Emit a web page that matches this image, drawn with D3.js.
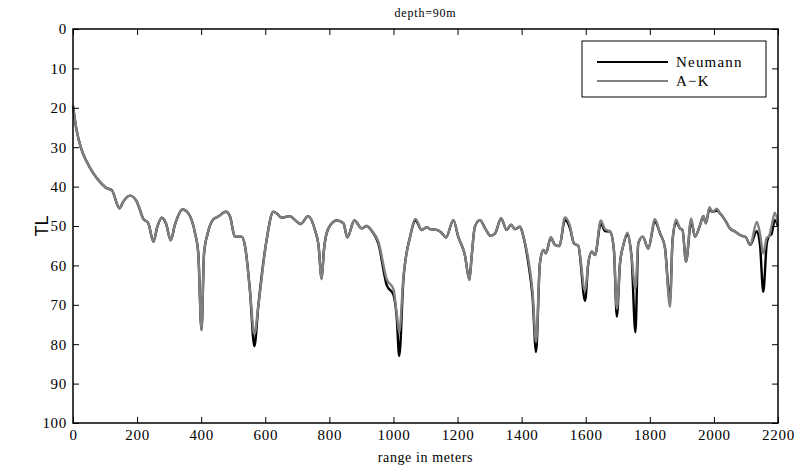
<!DOCTYPE html>
<html>
<head>
<meta charset="utf-8">
<script src="https://cdn.jsdelivr.net/npm/d3@7"></script>
<style>
  body { margin: 0; background: #fff; }
  .js-container { width: 796px; height: 468px; }
  svg text { fill: #000; }
</style>
</head>
<body>
<div class="js-container"></div>
<script>
;(function() {
  'use strict';

  var ranges = [0, 11, 27, 43, 63, 84, 105, 121, 145, 157, 178, 199, 219, 235, 251, 263, 277, 290, 305, 318,
    342, 360, 381, 391, 401, 409, 420, 438, 453, 477, 490, 505, 526, 537, 552, 566, 578, 604, 625, 636,
    651, 677, 693, 710, 734, 755, 766, 776, 783, 797, 823, 844, 856, 878, 901, 916, 932, 953, 979, 1000,
    1010, 1018, 1031, 1052, 1069, 1088, 1104, 1114, 1135, 1150, 1164, 1187, 1202, 1223, 1237, 1244, 1254, 1270, 1286, 1303,
    1317, 1336, 1353, 1367, 1379, 1395, 1405, 1421, 1434, 1445, 1457, 1468, 1476, 1491, 1504, 1518, 1535, 1551, 1563, 1577,
    1598, 1608, 1619, 1629, 1647, 1660, 1676, 1688, 1697, 1707, 1717, 1730, 1743, 1755, 1764, 1778, 1795, 1816, 1832, 1847,
    1863, 1871, 1882, 1894, 1902, 1913, 1929, 1941, 1957, 1967, 1975, 1986, 1996, 2009, 2019, 2035, 2050, 2066, 2081, 2100,
    2113, 2134, 2144, 2154, 2165, 2172, 2180, 2190, 2200];

  var neumann = [19.5, 25.6, 30.7, 33.7, 36.6, 38.8, 40.4, 40.9, 45.5, 43.8, 42.3, 43.8, 48.1, 49.3, 54.0, 50.2, 47.9, 49.3, 53.6, 49.7,
    45.8, 46.8, 51.9, 57.0, 76.4, 56.9, 52.0, 48.3, 47.6, 46.4, 47.6, 52.7, 52.7, 55.2, 66.2, 80.5, 70.5, 53.6, 46.4, 46.8,
    47.9, 47.5, 48.5, 49.5, 47.5, 51.0, 54.8, 63.3, 56.1, 50.6, 48.6, 49.3, 52.9, 48.6, 50.6, 50.0, 51.2, 54.5, 65.0, 67.5,
    73.0, 83.0, 63.7, 52.7, 48.6, 51.0, 50.3, 50.8, 51.0, 51.7, 52.9, 48.5, 52.7, 57.4, 63.7, 57.8, 50.2, 48.5, 50.6, 52.5,
    51.9, 48.1, 51.0, 49.7, 50.8, 50.2, 52.5, 59.5, 67.9, 82.0, 59.5, 56.1, 56.9, 52.9, 54.8, 55.1, 48.5, 50.6, 54.4, 55.1,
    69.0, 59.5, 56.5, 57.4, 49.3, 51.3, 51.4, 56.1, 73.0, 59.5, 55.0, 52.3, 57.8, 77.0, 54.4, 52.7, 55.7, 48.9, 51.9, 55.4,
    69.0, 53.6, 49.0, 50.6, 51.0, 59.0, 48.8, 52.7, 49.7, 47.5, 49.3, 45.7, 46.4, 46.1, 46.8, 48.5, 50.6, 51.4, 52.3, 52.9,
    54.8, 51.3, 55.0, 66.7, 54.4, 52.6, 52.0, 48.5, 50.0];

  var ak = [19.5, 25.6, 30.7, 33.7, 36.6, 38.8, 40.4, 40.9, 45.5, 43.8, 42.3, 43.8, 48.1, 49.3, 54.0, 50.2, 47.9, 49.3, 53.6, 49.7,
    45.8, 46.8, 51.9, 57.0, 76.4, 56.9, 52.0, 48.3, 47.6, 46.4, 47.6, 52.7, 52.7, 55.2, 66.2, 77.5, 70.5, 53.6, 46.4, 46.8,
    47.9, 47.5, 48.5, 49.5, 47.5, 51.0, 54.8, 63.5, 56.1, 50.6, 48.6, 49.3, 52.9, 48.6, 50.6, 50.0, 51.2, 54.0, 63.5, 66.0,
    72.0, 77.0, 63.0, 52.7, 48.2, 51.0, 50.3, 50.8, 51.0, 51.7, 52.9, 48.5, 52.7, 57.4, 63.7, 57.8, 50.2, 48.5, 50.6, 52.5,
    51.9, 48.1, 51.0, 49.7, 50.8, 50.2, 52.5, 58.5, 66.5, 79.5, 59.5, 56.1, 56.9, 52.9, 54.8, 55.1, 47.8, 50.0, 54.4, 55.1,
    66.5, 59.5, 56.5, 57.4, 48.6, 50.8, 51.4, 56.1, 71.0, 59.5, 55.0, 51.7, 57.8, 66.0, 54.4, 52.7, 55.7, 48.3, 51.9, 55.4,
    70.5, 53.6, 48.4, 50.6, 51.0, 59.0, 48.1, 52.7, 49.7, 47.5, 49.3, 45.2, 46.4, 45.6, 46.8, 48.5, 50.6, 51.4, 52.3, 52.9,
    54.8, 49.0, 52.0, 57.0, 53.0, 52.6, 50.0, 46.6, 49.5];

  var seriesNames = ['Neumann', 'A\u2212K'];
  var seriesColors = ['#000000', '#808080'];
  var xTicks = d3.range(0, 2201, 200);
  var yTicks = d3.range(0, 101, 10);

  var serif = "'Liberation Serif', 'Times New Roman', serif";

  var container = d3.select('.js-container');
  var windowW = 796;
  var windowH = 468;
  var margin = {top: 29, right: 18, bottom: 45, left: 73};
  var plotW = windowW - margin.left - margin.right;
  var plotH = windowH - margin.top - margin.bottom;

  var svg = container.append('svg')
              .attr('width', windowW)
              .attr('height', windowH);

  var g = svg.append('g')
             .attr('transform', 'translate(' + margin.left + ',' + margin.top + ')');

  var x = d3.scaleLinear().domain([0, 2200]).range([0, plotW]);
  // TL grows downward, so 0 sits at the top.
  var y = d3.scaleLinear().domain([0, 100]).range([0, plotH]);

  var line = d3.line()
               .x(function(d) { return x(d[0]); })
               .y(function(d) { return y(d[1]); })
               .curve(d3.curveMonotoneX);

  // Draw black first, grey on top, like the original.
  [neumann, ak].forEach(function(vals, i) {
    var pts = ranges.map(function(r, j) { return [r, vals[j]]; });
    g.append('path')
        .datum(pts)
        .attr('fill', 'none')
        .attr('stroke', seriesColors[i])
        .attr('stroke-width', 2.4)
        .attr('stroke-linejoin', 'round')
        .attr('d', line);
  });

  // Axes: ticks point inward on all four sides.
  var tickLen = 6;
  function styleAxis(sel) {
    sel.attr('font-family', serif).attr('font-size', 15);
    sel.select('.domain').remove();
    sel.selectAll('line').attr('stroke', '#000').attr('stroke-width', 1);
    sel.selectAll('text').style('letter-spacing', '0.7px');
  }

  g.append('g')
      .attr('transform', 'translate(0,' + plotH + ')')
      .call(d3.axisBottom(x).tickValues(xTicks).tickSize(-tickLen).tickPadding(6).tickFormat(d3.format('d')))
      .call(styleAxis);

  g.append('g')
      .call(d3.axisTop(x).tickValues(xTicks).tickSize(-tickLen).tickFormat(''))
      .call(styleAxis);

  g.append('g')
      .call(d3.axisLeft(y).tickValues(yTicks).tickSize(-tickLen).tickPadding(6).tickFormat(d3.format('d')))
      .call(styleAxis);

  g.append('g')
      .attr('transform', 'translate(' + plotW + ',0)')
      .call(d3.axisRight(y).tickValues(yTicks).tickSize(-tickLen).tickFormat(''))
      .call(styleAxis);

  g.append('rect')
      .attr('width', plotW)
      .attr('height', plotH)
      .attr('fill', 'none')
      .attr('stroke', '#000')
      .attr('stroke-width', 1.5);

  // Title and axis labels.
  svg.append('text')
      .attr('x', margin.left + plotW / 2)
      .attr('y', 17)
      .attr('text-anchor', 'middle')
      .attr('font-family', serif)
      .attr('font-size', 12)
      .style('letter-spacing', '0.8px')
      .text('depth=90m');

  svg.append('text')
      .attr('x', margin.left + plotW / 2)
      .attr('y', 462)
      .attr('text-anchor', 'middle')
      .attr('font-family', serif)
      .attr('font-size', 14)
      .style('letter-spacing', '0.6px')
      .text('range in meters');

  svg.append('text')
      .attr('transform', 'translate(48,' + (margin.top + plotH / 2) + ') rotate(-90)')
      .attr('text-anchor', 'middle')
      .attr('font-family', "'Liberation Sans', Arial, sans-serif")
      .attr('font-size', 18)
      .text('TL');

  // Legend box.
  var legend = svg.append('g').attr('transform', 'translate(582,41)');
  legend.append('rect')
      .attr('width', 184)
      .attr('height', 56)
      .attr('fill', '#fff')
      .attr('stroke', '#000')
      .attr('stroke-width', 1);

  seriesNames.forEach(function(name, i) {
    var ly = 21 + i * 19;
    legend.append('line')
        .attr('x1', 15).attr('x2', 86)
        .attr('y1', ly).attr('y2', ly)
        .attr('stroke', seriesColors[i])
        .attr('stroke-width', 2);
    legend.append('text')
        .attr('x', 94)
        .attr('y', ly + 5)
        .attr('font-family', serif)
        .attr('font-size', 15)
        .style('letter-spacing', '1.2px')
        .text(name);
  });

}());
</script>
</body>
</html>
